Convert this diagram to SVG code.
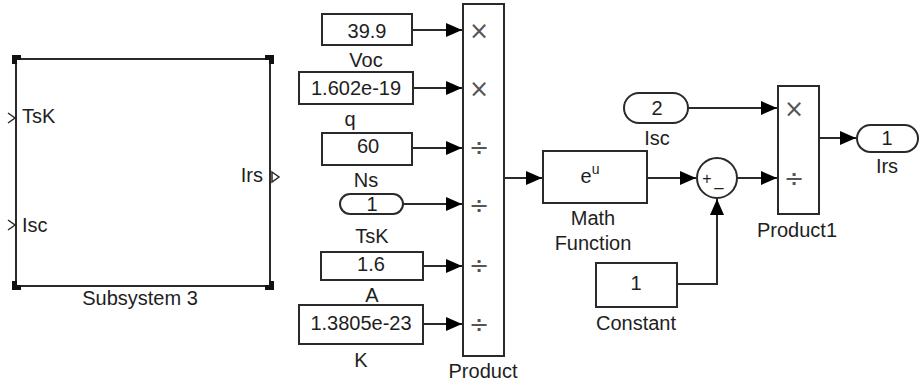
<svg xmlns="http://www.w3.org/2000/svg" width="920" height="387" viewBox="0 0 920 387">
<defs>
<style>
.blk{fill:#fff;stroke:#2a2a2a;stroke-width:2}
.t{font-family:"Liberation Sans",Arial,sans-serif;font-size:20px;fill:#1e1e1e;text-anchor:middle}
.sym{font-family:"DejaVu Sans",sans-serif;font-size:24px;fill:#555;text-anchor:middle}
.ln{fill:none;stroke:#2a2a2a;stroke-width:2}
.pt{fill:none;stroke:#2a2a2a;stroke-width:1.5}
</style>
<marker id="ar" markerUnits="userSpaceOnUse" markerWidth="16" markerHeight="14" refX="16" refY="7" orient="auto">
<path d="M0,0 L16,7 L0,14 z" fill="#000"/>
</marker>
</defs>
<rect width="920" height="387" fill="#fff"/>

<g id="subsystem3">
<rect class="blk" x="16" y="59" width="254" height="227"/>
<rect x="12" y="55" width="9" height="9" fill="#111"/><rect x="17" y="60" width="4" height="4" fill="#fff"/>
<rect x="265" y="55" width="9" height="9" fill="#111"/><rect x="265" y="60" width="4" height="4" fill="#fff"/>
<rect x="12" y="281" width="9" height="9" fill="#111"/><rect x="17" y="281" width="4" height="4" fill="#fff"/>
<rect x="265" y="281" width="9" height="9" fill="#111"/><rect x="265" y="281" width="4" height="4" fill="#fff"/>
<path class="pt" d="M8,113 L15,118 L8,123"/>
<path class="pt" d="M8,220 L15,225 L8,230"/>
<path class="pt" d="M272,172 L279,177 L272,182 z"/>
<text class="t" x="22" y="123" style="text-anchor:start">TsK</text>
<text class="t" x="22" y="232" style="text-anchor:start">Isc</text>
<text class="t" x="263" y="182" style="text-anchor:end">Irs</text>
<text class="t" x="140" y="305">Subsystem 3</text>
</g>

<g id="voc">
<rect class="blk" x="322" y="14" width="90" height="31"/>
<text class="t" x="367" y="38">39.9</text>
<text class="t" x="366" y="67">Voc</text>
</g>
<g id="q">
<rect class="blk" x="299" y="72" width="114" height="32"/>
<text class="t" x="356" y="95">1.602e-19</text>
<text class="t" x="350" y="126">q</text>
</g>
<g id="ns">
<rect class="blk" x="322" y="133" width="90" height="32"/>
<text class="t" x="368" y="153">60</text>
<text class="t" x="366" y="187">Ns</text>
</g>
<g id="tsk">
<rect class="blk" x="340" y="194" width="63" height="20" rx="10" ry="10"/>
<text class="t" x="372" y="211">1</text>
<text class="t" x="372" y="243">TsK</text>
</g>
<g id="a">
<rect class="blk" x="321" y="252" width="102" height="28"/>
<text class="t" x="371" y="271">1.6</text>
<text class="t" x="372" y="302">A</text>
</g>
<g id="k">
<rect class="blk" x="299" y="305" width="124" height="39"/>
<text class="t" x="361" y="330">1.3805e-23</text>
<text class="t" x="361" y="367">K</text>
</g>

<g id="product">
<rect class="blk" x="463" y="4" width="41" height="352"/>
<text class="sym" x="479" y="39">×</text>
<text class="sym" x="479" y="97">×</text>
<text class="sym" x="479" y="156">÷</text>
<text class="sym" x="479" y="214">÷</text>
<text class="sym" x="479" y="274">÷</text>
<text class="sym" x="479" y="333">÷</text>
<text class="t" x="483" y="378">Product</text>
</g>

<g id="mathfunction">
<rect class="blk" x="543" y="151" width="104" height="52"/>
<text class="t" x="590" y="183">e<tspan font-size="14" dy="-9">u</tspan></text>
<text class="t" x="593" y="225">Math</text>
<text class="t" x="593" y="250">Function</text>
</g>

<g id="sum">
<circle cx="717" cy="178" r="20" fill="#fff" stroke="#2a2a2a" stroke-width="2"/>
<text class="t" x="707" y="184" style="font-size:16px">+</text>
<text class="t" x="719" y="186" style="font-size:16px">_</text>
</g>

<g id="constant">
<rect class="blk" x="596" y="263" width="81" height="44"/>
<text class="t" x="636" y="290">1</text>
<text class="t" x="636" y="330">Constant</text>
</g>

<g id="isc">
<rect class="blk" x="624" y="93" width="64" height="30" rx="15" ry="15"/>
<text class="t" x="657" y="115">2</text>
<text class="t" x="657" y="145">Isc</text>
</g>

<g id="product1">
<rect class="blk" x="778" y="86" width="41" height="128"/>
<text class="sym" x="794" y="117">×</text>
<text class="sym" x="794" y="187">÷</text>
<text class="t" x="797" y="237">Product1</text>
</g>

<g id="irs">
<rect class="blk" x="857" y="125" width="61" height="27" rx="13.5" ry="13.5"/>
<text class="t" x="887" y="145">1</text>
<text class="t" x="887" y="173">Irs</text>
</g>

<g id="connectors">
<path class="ln" d="M412,30 L462,30" marker-end="url(#ar)"/>
<path class="ln" d="M413,88 L462,88" marker-end="url(#ar)"/>
<path class="ln" d="M412,148 L462,148" marker-end="url(#ar)"/>
<path class="ln" d="M403,204 L462,204" marker-end="url(#ar)"/>
<path class="ln" d="M423,266 L462,266" marker-end="url(#ar)"/>
<path class="ln" d="M423,324 L462,324" marker-end="url(#ar)"/>
<path class="ln" d="M504,178 L542,178" marker-end="url(#ar)"/>
<path class="ln" d="M647,178 L696,178" marker-end="url(#ar)"/>
<path class="ln" d="M677,284 L717,284 L717,199" marker-end="url(#ar)"/>
<path class="ln" d="M737,178 L777,178" marker-end="url(#ar)"/>
<path class="ln" d="M688,108 L777,108" marker-end="url(#ar)"/>
<path class="ln" d="M819,138 L856,138" marker-end="url(#ar)"/>
</g>
</svg>
